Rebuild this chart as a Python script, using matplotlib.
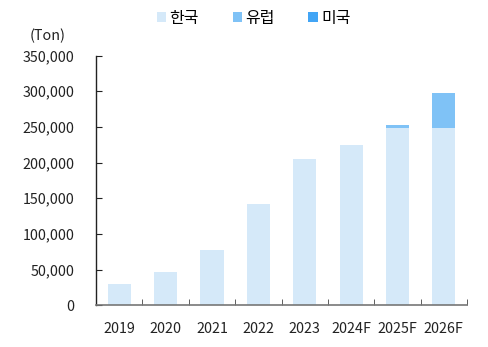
import matplotlib
matplotlib.use("Agg")
import matplotlib.pyplot as plt
from matplotlib.patches import Patch
import numpy as np

plt.rcParams['font.family'] = ['Noto Sans CJK KR', 'DejaVu Sans']

years = ["2019", "2020", "2021", "2022", "2023", "2024F", "2025F", "2026F"]
korea = [30000, 47000, 77000, 142000, 205000, 225000, 248000, 248000]
europe = [0, 0, 0, 0, 0, 0, 4500, 49500]
usa = [0, 0, 0, 0, 0, 0, 0, 0]
series_names = ["한국", "유럽", "미국"]
colors = ["#d5e9f9", "#7fc2f6", "#42a5f5"]
yticks = [0, 50000, 100000, 150000, 200000, 250000, 300000, 350000]

fig = plt.figure(figsize=(4.88, 3.47), dpi=100)
ax = fig.add_axes([0.197, 0.12, 0.76, 0.72])

x = np.arange(len(years))
w = 0.5
ax.bar(x, korea, w, color=colors[0], zorder=2)
ax.bar(x, europe, w, bottom=korea, color=colors[1], zorder=2)
ax.bar(x, usa, w, bottom=np.array(korea) + np.array(europe), color=colors[2], zorder=2)

ax.set_xlim(-0.5, len(years) - 0.5)
ax.set_ylim(0, 350000)
ax.set_yticks(yticks)
ax.set_yticklabels([f"{v:,}" for v in yticks], fontsize=10.3, color="#222222")
ax.set_xticks(x)
ax.set_xticklabels(years, fontsize=10.3, color="#222222")
ax.set_xticks(np.arange(-0.5, len(years)), minor=True)
ax.tick_params(axis="x", which="major", length=0, pad=12)
ax.tick_params(axis="x", which="minor", direction="in", length=4, color="#444444")
ax.tick_params(axis="y", direction="in", length=4, pad=15.5, color="#222222")

for s in ["top", "right"]:
    ax.spines[s].set_visible(False)
ax.spines["left"].set_color("#222222")
ax.spines["bottom"].set_color("#777777")
ax.spines["left"].set_linewidth(1.0)
ax.spines["bottom"].set_linewidth(1.2)

fig.text(48 / 488, 1 - 36 / 347, "(Ton)", ha="center", va="center", fontsize=10.3, color="#222222")

handles = [Patch(facecolor=c, edgecolor="none") for c in colors]
fig.legend(handles, series_names, loc="center", bbox_to_anchor=(0.52, 1 - 18 / 347),
           ncol=3, frameon=False, fontsize=11.5, handlelength=0.6, handleheight=0.6,
           handletextpad=0.2, columnspacing=2.1)

fig.savefig("out.png", dpi=100)
